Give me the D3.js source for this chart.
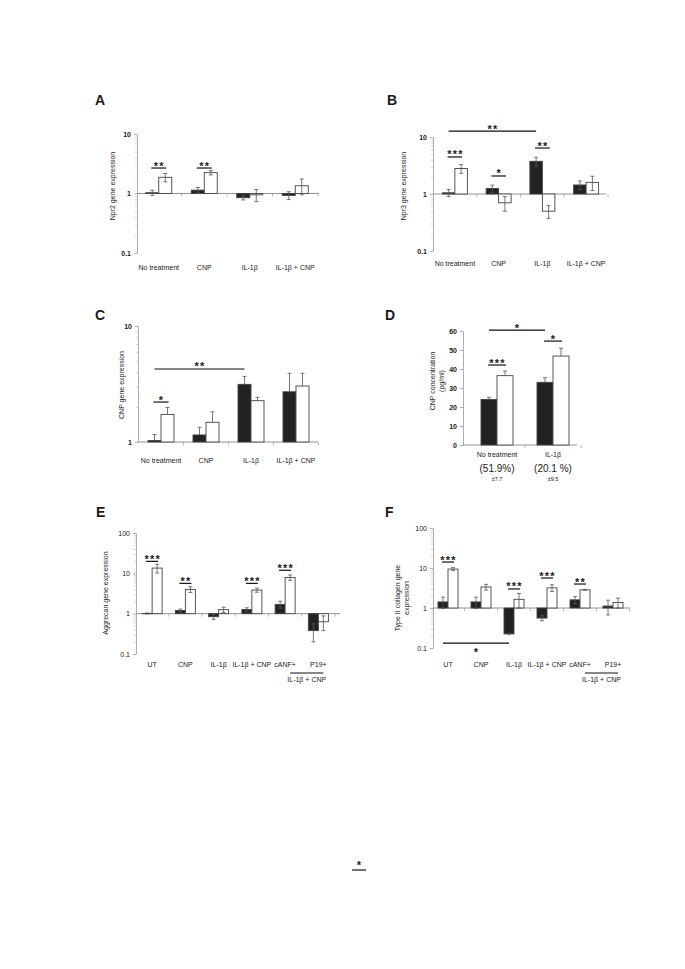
<html>
  <head>
    <script src="https://d3js.org/d3.v7.min.js"></script>
    <style>
      body { margin: 0; background: #fff; }
      text { font-family: "Liberation Sans", Arial, sans-serif; fill: #1a1a1a; }
    </style>
  </head>
  <body>
    <svg id="fig" width="685" height="969"></svg>
    <script>
      // categories
      const catsABC = ["No treatment", "CNP", "IL-1β", "IL-1β + CNP"];
      const catsD = ["No treatment", "IL-1β"];
      const catsEF = ["UT", "CNP", "IL-1β", "IL-1β + CNP", "cANF+", "P19+"];

      // A: Npr2 (dark = filled bars, open = white bars), means and SD
      const npr2Dark = [1.03, 1.14, 0.85, 0.93];
      const npr2DarkSd = [0.1, 0.12, 0.07, 0.14];
      const npr2Open = [1.87, 2.24, 0.95, 1.35];
      const npr2OpenSd = [0.3, 0.19, 0.22, 0.4];

      // B: Npr3
      const npr3Dark = [1.05, 1.25, 3.75, 1.44];
      const npr3DarkSd = [0.15, 0.18, 0.65, 0.25];
      const npr3Open = [2.8, 0.7, 0.5, 1.6];
      const npr3OpenSd = [0.5, 0.2, 0.13, 0.45];

      // C: CNP gene expression
      const cnpDark = [1.03, 1.15, 3.14, 2.71];
      const cnpDarkSd = [0.13, 0.19, 0.54, 1.2];
      const cnpOpen = [1.73, 1.48, 2.27, 3.04];
      const cnpOpenSd = [0.26, 0.34, 0.16, 0.87];

      // D: CNP concentration (pg/ml)
      const concDark = [24.0, 33.0];
      const concDarkSd = [1.1, 2.4];
      const concOpen = [36.5, 46.8];
      const concOpenSd = [2.4, 4.1];
      const concPct = ["(51.9%)", "(20.1 %)"];
      const concPctSd = ["±7.7", "±9.5"];

      // E: Aggrecan
      const aggDark = [1.01, 1.2, 0.84, 1.27, 1.7, 0.38];
      const aggDarkSd = [0.03, 0.1, 0.12, 0.13, 0.33, 0.18];
      const aggOpen = [13.5, 4.0, 1.26, 3.85, 7.9, 0.63];
      const aggOpenSd = [3.3, 0.65, 0.18, 0.45, 1.2, 0.25];

      // F: Type II collagen
      const colDark = [1.42, 1.42, 0.225, 0.56, 1.6, 1.12];
      const colDarkSd = [0.45, 0.45, 0.005, 0.08, 0.32, 0.45];
      const colOpen = [9.4, 3.35, 1.65, 3.2, 2.85, 1.38];
      const colOpenSd = [0.8, 0.55, 0.65, 0.6, 0.07, 0.38];

      // significance marks: a/b category index, pair = within one group, y level in data units
      const sigA = [
        { a: 0, b: 0, pair: true, y: 2.68, t: "**" },
        { a: 1, b: 1, pair: true, y: 2.68, t: "**" },
      ];
      const sigB = [
        { a: 0, b: 2, pair: false, y: 12.7, t: "**" },
        { a: 0, b: 0, pair: true, y: 4.46, t: "***" },
        { a: 1, b: 1, pair: true, y: 2.07, t: "*" },
        { a: 2, b: 2, pair: true, y: 6.41, t: "**" },
      ];
      const sigC = [
        { a: 0, b: 2, pair: false, y: 4.26, t: "**" },
        { a: 0, b: 0, pair: true, y: 2.21, t: "*" },
      ];
      const sigD = [
        { a: 0, b: 1, pair: false, y: 60.5, t: "*" },
        { a: 0, b: 0, pair: true, y: 42.1, t: "***" },
        { a: 1, b: 1, pair: true, y: 54.7, t: "*" },
      ];
      const sigE = [
        { a: 0, b: 0, pair: true, y: 19.8, t: "***" },
        { a: 1, b: 1, pair: true, y: 5.64, t: "**" },
        { a: 3, b: 3, pair: true, y: 5.64, t: "***" },
        { a: 4, b: 4, pair: true, y: 11.9, t: "***" },
      ];
      const sigF = [
        { a: 0, b: 0, pair: true, y: 14.1, t: "***" },
        { a: 2, b: 2, pair: true, y: 2.99, t: "***" },
        { a: 3, b: 3, pair: true, y: 5.62, t: "***" },
        { a: 4, b: 4, pair: true, y: 3.98, t: "**" },
        { a: 0, b: 2, pair: false, y: 0.133, t: "*", below: true },
      ];

      const ticksLog2 = [0.1, 1, 10];
      const ticksLog1 = [1, 10];
      const ticksLog3 = [0.1, 1, 10, 100];
      const ticksLin = [0, 10, 20, 30, 40, 50, 60];

      const svg = d3.select("#fig");

      function panel(p) {
        const g = svg.append("g");
        const x = d3.scaleBand().domain(p.cats).range(p.xr);
        const y = p.log
          ? d3.scaleLog().domain(p.yd).range(p.yr)
          : d3.scaleLinear().domain(p.yd).range(p.yr);
        const base = p.log ? 1 : 0;
        const cx = (i) => x(p.cats[i]) + x.bandwidth() / 2;
        const bw = p.barW;

        // letter
        g.append("text").attr("x", p.letter[0]).attr("y", p.letter[1])
          .attr("font-size", 14).attr("font-weight", "bold").text(p.name);

        // minor ticks
        if (p.log) {
          const minor = y.ticks().filter((v) => Math.abs(Math.log10(v) - Math.round(Math.log10(v))) > 1e-6);
          g.append("g").attr("transform", `translate(${p.ax},0)`)
            .call(d3.axisLeft(y).tickValues(minor).tickFormat("").tickSize(2).tickSizeOuter(0))
            .call((s) => s.select(".domain").remove())
            .selectAll("line").attr("stroke", "#bbb").attr("stroke-width", 0.6);
        }
        // y axis
        const ya = g.append("g").attr("transform", `translate(${p.ax},0)`)
          .call(d3.axisLeft(y).tickValues(p.ticks).tickFormat(d3.format("~g"))
            .tickSize(3).tickSizeOuter(0).tickPadding(3));
        ya.select(".domain").attr("stroke", "#999").attr("stroke-width", 0.8);
        ya.selectAll("line").attr("stroke", "#999").attr("stroke-width", 0.8);
        ya.selectAll("text").attr("font-size", 7).attr("fill", "#1a1a1a")
          .attr("font-weight", p.boldTicks ? "bold" : "normal")
          .style("font-family", '"Liberation Sans", Arial, sans-serif');

        // y title
        const tt = g.append("text").attr("font-size", 7).attr("text-anchor", "middle")
          .attr("transform", `translate(${p.title[0]},${p.title[1]}) rotate(-90)`);
        p.titleLines.forEach((l, i) => {
          tt.append("tspan").attr("x", 0).attr("dy", i === 0 ? (-(p.titleLines.length - 1) * 4.2 + 2.5) : 8.4).text(l);
        });

        // baseline and separators
        const yb = y(base);
        g.append("line").attr("x1", p.ax).attr("x2", p.xEnd).attr("y1", yb).attr("y2", yb)
          .attr("stroke", "#888").attr("stroke-width", 0.9);
        const seps = p.cats.slice(1).map((c) => x(c)).concat([p.xr[1]]);
        g.selectAll(".sep").data(seps).enter().append("line")
          .attr("x1", (d) => d).attr("x2", (d) => d).attr("y1", yb).attr("y2", yb + 3)
          .attr("stroke", "#999").attr("stroke-width", 0.7);

        // bars
        const series = [
          { v: p.dark, sd: p.darkSd, fill: "#222", off: -bw },
          { v: p.open, sd: p.openSd, fill: "#fff", off: 0 },
        ];
        series.forEach((s) => {
          g.selectAll(null).data(p.cats).enter().append("rect")
            .attr("x", (c, i) => cx(i) + s.off)
            .attr("y", (c, i) => Math.min(y(s.v[i]), yb))
            .attr("width", bw)
            .attr("height", (c, i) => Math.abs(y(s.v[i]) - yb))
            .attr("fill", s.fill).attr("stroke", "#444").attr("stroke-width", 0.9);
        });
        // error bars
        series.forEach((s) => {
          p.cats.forEach((c, i) => {
            const xm = cx(i) + s.off + bw / 2;
            const hi = s.v[i] + s.sd[i];
            const lo = p.upOnly ? s.v[i] : Math.max(s.v[i] - s.sd[i], p.yd[0]);
            const eg = g.append("g").attr("stroke", "#555").attr("stroke-width", 0.8);
            eg.append("line").attr("x1", xm).attr("x2", xm).attr("y1", y(hi)).attr("y2", y(lo));
            eg.append("line").attr("x1", xm - 2).attr("x2", xm + 2).attr("y1", y(hi)).attr("y2", y(hi));
            if (!p.upOnly) {
              eg.append("line").attr("x1", xm - 2).attr("x2", xm + 2).attr("y1", y(lo)).attr("y2", y(lo));
            }
          });
        });

        // category labels
        g.selectAll(null).data(p.cats).enter().append("text")
          .attr("x", (c, i) => cx(i)).attr("y", p.labelY)
          .attr("text-anchor", "middle").attr("font-size", 7).text((d) => d);

        // significance
        p.sig.forEach((s) => {
          let x1, x2;
          if (s.pair) { x1 = cx(s.a) - bw / 2 - 1; x2 = cx(s.a) + bw / 2 + 1; }
          else { x1 = cx(s.a) - bw / 2; x2 = cx(s.b) - bw / 2; }
          const ly = y(s.y);
          g.append("line").attr("x1", x1).attr("x2", x2).attr("y1", ly).attr("y2", ly)
            .attr("stroke", "#111").attr("stroke-width", 1.2);
          g.append("text").attr("x", (x1 + x2) / 2 + 0.6).attr("y", s.below ? ly + 13 : ly + 1.5)
            .attr("text-anchor", "middle").attr("font-size", 11).attr("font-weight", "bold")
            .attr("letter-spacing", 1.2).text(s.t);
        });
        return { g, x, y, cx };
      }

      panel({ name: "A", letter: [95, 105], cats: catsABC, xr: [136, 318], ax: 137, xEnd: 319,
        log: true, yd: [0.1, 10], yr: [253, 134], ticks: ticksLog2, boldTicks: true, barW: 13,
        dark: npr2Dark, darkSd: npr2DarkSd, open: npr2Open, openSd: npr2OpenSd,
        labelY: 270, title: [112, 186], titleLines: ["Npr2 gene expression"], sig: sigA });

      panel({ name: "B", letter: [387, 105], cats: catsABC, xr: [433, 608], ax: 433, xEnd: 606,
        log: true, yd: [0.1, 10], yr: [251, 137], ticks: ticksLog2, boldTicks: true, barW: 12.5,
        dark: npr3Dark, darkSd: npr3DarkSd, open: npr3Open, openSd: npr3OpenSd,
        labelY: 266, title: [403, 186], titleLines: ["Npr3 gene expression"], sig: sigB });

      panel({ name: "C", letter: [95, 320], cats: catsABC, xr: [138.5, 318.5], ax: 138, xEnd: 318,
        log: true, yd: [1, 10], yr: [442, 326], ticks: ticksLog1, boldTicks: true, barW: 13, upOnly: true,
        dark: cnpDark, darkSd: cnpDarkSd, open: cnpOpen, openSd: cnpOpenSd,
        labelY: 463, title: [121, 385], titleLines: ["CNP gene expression"], sig: sigC });

      const pd = panel({ name: "D", letter: [385, 320], cats: catsD, xr: [469, 581], ax: 463, xEnd: 577,
        log: false, yd: [0, 60], yr: [445, 331], ticks: ticksLin, boldTicks: true, barW: 16, upOnly: true,
        dark: concDark, darkSd: concDarkSd, open: concOpen, openSd: concOpenSd,
        labelY: 457, title: [437, 381], titleLines: ["CNP concentration", "(pg/ml)"], sig: sigD });
      pd.g.selectAll(null).data(concPct).enter().append("text")
        .attr("x", (d, i) => pd.cx(i)).attr("y", 472).attr("text-anchor", "middle")
        .attr("font-size", 10).text((d) => d);
      pd.g.selectAll(null).data(concPctSd).enter().append("text")
        .attr("x", (d, i) => pd.cx(i)).attr("y", 480.5).attr("text-anchor", "middle")
        .attr("font-size", 5.5).text((d) => d);

      const groupNote = "IL-1β + CNP";
      [
        { name: "E", letter: [96, 517], xr: [135.5, 335], ax: 136, xEnd: 340, yr: [654, 533],
          dark: aggDark, darkSd: aggDarkSd, open: aggOpen, openSd: aggOpenSd,
          title: [105, 593], titleLines: ["Aggrecan gene expression"], sig: sigE },
        { name: "F", letter: [385, 517], xr: [431.5, 629.5], ax: 433, xEnd: 630, yr: [648, 528],
          dark: colDark, darkSd: colDarkSd, open: colOpen, openSd: colOpenSd,
          title: [402, 598], titleLines: ["Type II collagen gene", "expression"], sig: sigF },
      ].forEach((c) => {
        const pe = panel(Object.assign({ cats: catsEF, log: true, yd: [0.1, 100], ticks: ticksLog3,
          boldTicks: false, barW: 10, labelY: 667 }, c));
        const x1 = pe.cx(4) + 5, x2 = pe.cx(5) + 5;
        pe.g.append("line").attr("x1", x1).attr("x2", x2).attr("y1", 673).attr("y2", 673)
          .attr("stroke", "#111").attr("stroke-width", 1);
        pe.g.append("text").attr("x", (x1 + x2) / 2).attr("y", 682).attr("text-anchor", "middle")
          .attr("font-size", 7).text(groupNote);
      });

      // stray mark at the bottom of the page
      svg.append("line").attr("x1", 352).attr("x2", 366).attr("y1", 870).attr("y2", 870)
        .attr("stroke", "#111").attr("stroke-width", 1.2);
      svg.append("text").attr("x", 359).attr("y", 869).attr("text-anchor", "middle")
        .attr("font-size", 11).attr("font-weight", "bold").text("*");
    </script>
  </body>
</html>
